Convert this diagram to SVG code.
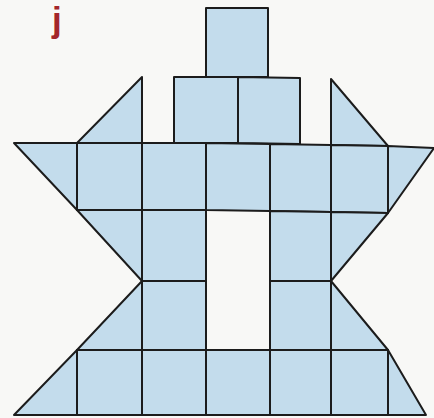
<svg xmlns="http://www.w3.org/2000/svg" width="434" height="418" viewBox="0 0 434 418">
<style>
.t{fill:#c3dcec;stroke:#1c1c1c;stroke-width:2;stroke-linejoin:round}
.lbl{font-family:"Liberation Sans",Arial,sans-serif;font-size:35px;font-weight:bold;fill:#a3262a}
</style>
<rect x="0" y="0" width="434" height="418" fill="#f8f8f6"/>
<text class="lbl" x="52" y="32">j</text>
<g id="top">
<polygon class="t" points="206,8 268,8 268,77 206,77"/>
<polygon class="t" points="174,77 238,77 238,143 174,143"/>
<polygon class="t" points="238,77 300,78 300,144 238,143"/>
<polygon class="t" points="77,143 142,77 142,143"/>
<polygon class="t" points="331,79 388,146 331,145"/>
</g>
<g id="row1">
<polygon class="t" points="14,143 77,143 77,210"/>
<polygon class="t" points="77,143 142,143 142,210 77,210"/>
<polygon class="t" points="142,143 206,143 206,210 142,210"/>
<polygon class="t" points="206,143 270,144 270,211 206,210"/>
<polygon class="t" points="270,144 331,145 331,212 270,211"/>
<polygon class="t" points="331,145 388,146 388,213 331,212"/>
<polygon class="t" points="388,146 434,148 388,213"/>
</g>
<g id="row2">
<polygon class="t" points="77,210 142,210 142,281"/>
<polygon class="t" points="142,210 206,210 206,281 142,281"/>
<polygon class="t" points="270,211 331,212 331,281 270,281"/>
<polygon class="t" points="331,212 388,213 331,281"/>
</g>
<g id="row3">
<polygon class="t" points="142,281 142,350 77,350"/>
<polygon class="t" points="142,281 206,281 206,350 142,350"/>
<polygon class="t" points="270,281 331,281 331,350 270,350"/>
<polygon class="t" points="331,281 388,350 331,350"/>
</g>
<g id="row4">
<polygon class="t" points="77,350 77,415 14,415"/>
<polygon class="t" points="77,350 142,350 142,415 77,415"/>
<polygon class="t" points="142,350 206,350 206,415 142,415"/>
<polygon class="t" points="206,350 270,350 270,415 206,415"/>
<polygon class="t" points="270,350 331,350 331,415 270,415"/>
<polygon class="t" points="331,350 388,350 388,415 331,415"/>
<polygon class="t" points="388,350 426,415 388,415"/>
</g>
</svg>
